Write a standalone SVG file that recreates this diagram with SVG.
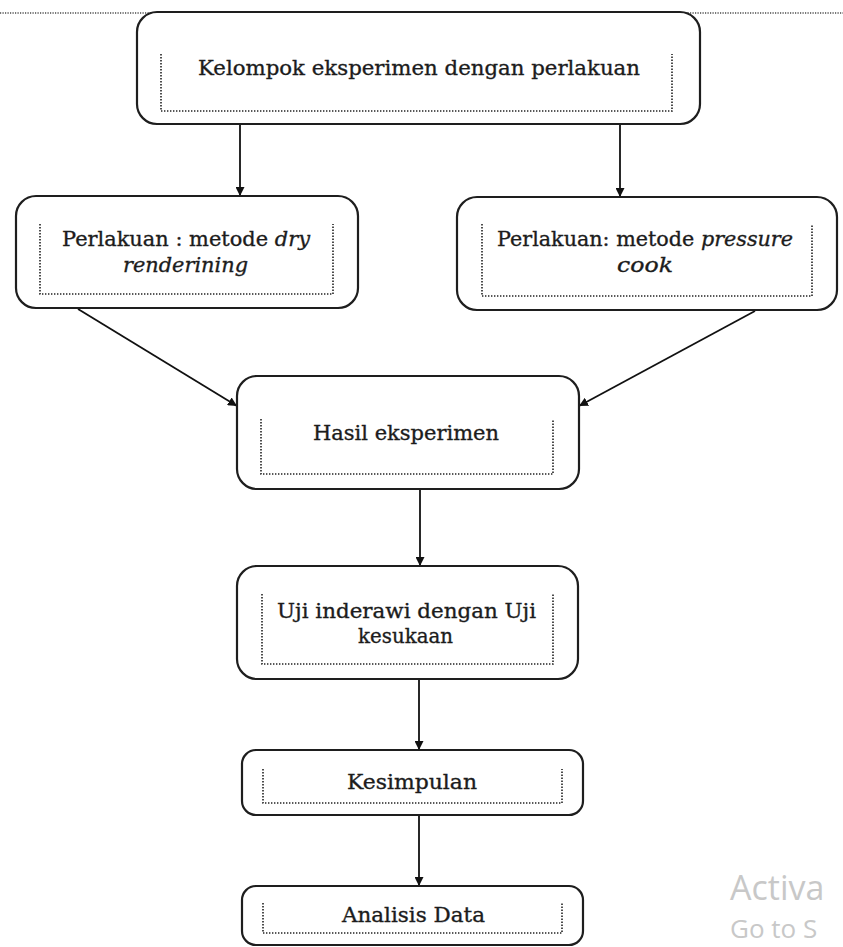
<svg xmlns="http://www.w3.org/2000/svg" width="843" height="947" viewBox="0 0 843 947">
<style>
.box{fill:#fff;stroke:#1e1e1e;stroke-width:2.2}
.inner{fill:none;stroke:#222;stroke-width:1.6;stroke-dasharray:1.4 1.6}
.t{font-family:"DejaVu Serif","Liberation Serif",serif;font-size:21px;fill:#1c1c1c;stroke:#1c1c1c;stroke-width:0.35}
.i{font-style:italic}
.c{fill:none;stroke:#111;stroke-width:1.8}
.wm{font-family:"Open Sans","Noto Sans",sans-serif;fill:#c8c8c8}
</style>
<defs>
<marker id="ah" viewBox="0 0 10 10" refX="10" refY="5" markerWidth="9" markerHeight="9" markerUnits="userSpaceOnUse" orient="auto">
<path d="M0,0 L10,5 L0,10 z" fill="#111"/>
</marker>
</defs>
<rect width="843" height="947" fill="#fff"/>
<line x1="0" y1="13" x2="843" y2="13" stroke="#777" stroke-width="2" stroke-dasharray="1.2 1.3"/>
<g id="connectors">
<line class="c" x1="240" y1="125" x2="240" y2="196" marker-end="url(#ah)"/>
<line class="c" x1="620" y1="125" x2="620" y2="197" marker-end="url(#ah)"/>
<line class="c" x1="78" y1="309" x2="237" y2="406" marker-end="url(#ah)"/>
<line class="c" x1="755" y1="311" x2="579" y2="406" marker-end="url(#ah)"/>
<line class="c" x1="420" y1="489" x2="420" y2="566" marker-end="url(#ah)"/>
<line class="c" x1="419" y1="679" x2="419" y2="750" marker-end="url(#ah)"/>
<line class="c" x1="419" y1="815" x2="419" y2="886" marker-end="url(#ah)"/>
</g>
<g id="node-kelompok">
<rect class="box" x="137" y="12" width="563" height="112" rx="20"/>
<path class="inner" d="M161,54 V111 H672 V54"/>
<text class="t" x="198" y="75" textLength="442" lengthAdjust="spacingAndGlyphs">Kelompok eksperimen dengan perlakuan</text>
</g>
<g id="node-dry">
<rect class="box" x="16" y="196" width="342" height="112" rx="20"/>
<path class="inner" d="M40,224 V294 H333 V224"/>
<text class="t" x="62" y="246" textLength="248" lengthAdjust="spacingAndGlyphs">Perlakuan : metode <tspan class="i">dry</tspan></text>
<text class="t i" x="123" y="272" textLength="125" lengthAdjust="spacingAndGlyphs">renderining</text>
</g>
<g id="node-pressure">
<rect class="box" x="457" y="197" width="380" height="113" rx="20"/>
<path class="inner" d="M482,224 V296 H812 V224"/>
<text class="t" x="497" y="246" textLength="296" lengthAdjust="spacingAndGlyphs">Perlakuan: metode <tspan class="i">pressure</tspan></text>
<text class="t i" x="617" y="272" textLength="56" lengthAdjust="spacingAndGlyphs">cook</text>
</g>
<g id="node-hasil">
<rect class="box" x="237" y="376" width="342" height="113" rx="20"/>
<path class="inner" d="M261,419 V474 H553 V419"/>
<text class="t" x="313" y="440" textLength="186" lengthAdjust="spacingAndGlyphs">Hasil eksperimen</text>
</g>
<g id="node-uji">
<rect class="box" x="237" y="566" width="341" height="113" rx="20"/>
<path class="inner" d="M262,594 V664 H553 V594"/>
<text class="t" x="277" y="618" textLength="259" lengthAdjust="spacingAndGlyphs">Uji inderawi dengan Uji</text>
<text class="t" x="358" y="643" textLength="95" lengthAdjust="spacingAndGlyphs">kesukaan</text>
</g>
<g id="node-kesimpulan">
<rect class="box" x="242" y="750" width="341" height="65" rx="14"/>
<path class="inner" d="M263,769 V803 H562 V769"/>
<text class="t" x="347" y="789" textLength="130" lengthAdjust="spacingAndGlyphs">Kesimpulan</text>
</g>
<g id="node-analisis">
<rect class="box" x="242" y="886" width="341" height="59" rx="14"/>
<path class="inner" d="M263,903 V933 H562 V903"/>
<text class="t" x="342" y="922" textLength="143" lengthAdjust="spacingAndGlyphs">Analisis Data</text>
</g>
<text class="wm" x="730" y="900" font-size="34">Activa</text>
<text class="wm" x="730" y="938" font-size="26">Go to S</text>
</svg>
